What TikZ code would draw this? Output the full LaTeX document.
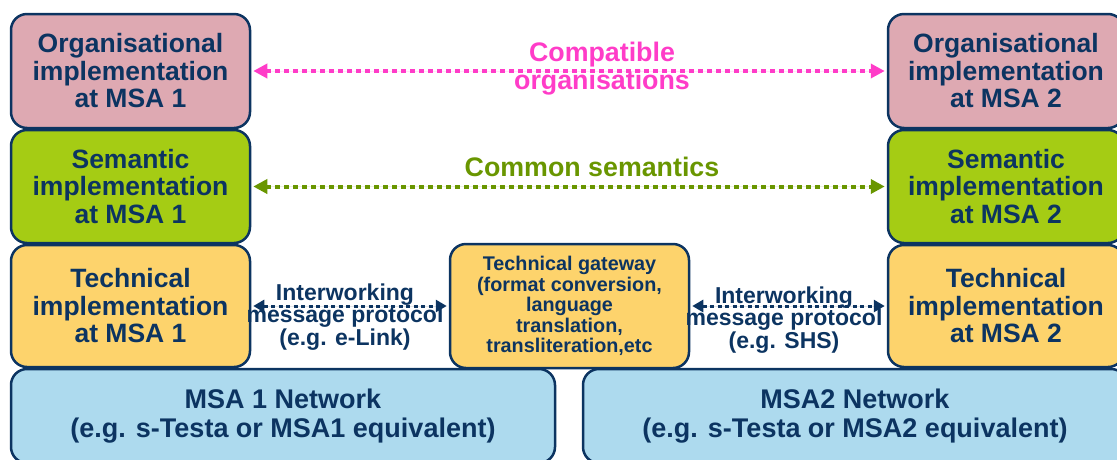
\documentclass[tikz,border=0pt]{standalone}
\usepackage{fontspec}
\setmainfont{Liberation Sans}
\usetikzlibrary{arrows.meta}
\definecolor{navy}{RGB}{12,52,97}
\definecolor{orgfill}{RGB}{222,169,178}
\definecolor{semfill}{RGB}{165,204,20}
\definecolor{techfill}{RGB}{253,211,108}
\definecolor{netfill}{RGB}{173,218,238}
\definecolor{pinkline}{RGB}{255,60,200}
\definecolor{greenline}{RGB}{105,150,0}
\tikzset{
  layerbox/.style={draw=navy, line width=2.5pt, rounded corners=16pt,
    text=navy, align=center, inner sep=0pt,
    font=\bfseries\fontsize{26.5}{27.5}\selectfont},
  orgbox/.style={layerbox, fill=orgfill},
  sembox/.style={layerbox, fill=semfill},
  techbox/.style={layerbox, fill=techfill},
  netbox/.style={layerbox, fill=netfill, font=\bfseries\fontsize{27}{29}\selectfont},
  gwbox/.style={layerbox, fill=techfill, font=\bfseries\fontsize{19.8}{20.5}\selectfont},
  bigdots/.style={line width=4pt, dash pattern=on 5pt off 4pt,
    {Triangle[length=14pt,width=14pt]}-{Triangle[length=14pt,width=14pt]}, shorten <=2pt, shorten >=2pt},
  smalldots/.style={draw=navy, line width=3pt, dash pattern=on 4pt off 3.5pt,
    {Triangle[length=11pt,width=12pt]}-{Triangle[length=11pt,width=12pt]}, shorten <=2pt, shorten >=2pt},
  linklabel/.style={text=navy, align=center, font=\bfseries\fontsize{23}{22.5}\selectfont},
  toplabel/.style={align=center, font=\bfseries\fontsize{26.8}{27.5}\selectfont},
}
\begin{document}
\begin{tikzpicture}[x=1pt, y=-1pt]
  \useasboundingbox (0,0) rectangle (1117,459);
  \clip (0,0) rectangle (1117,459);

  % member state A column
  \node[orgbox, minimum width=239pt, minimum height=114pt] (org1) at (130.5,71)
    {Organisational\\implementation\\at MSA 1};
  \node[sembox, minimum width=239pt, minimum height=113pt] (sem1) at (130.5,186.5)
    {Semantic\\implementation\\at MSA 1};
  \node[techbox, minimum width=239pt, minimum height=122pt] (tech1) at (130.5,306)
    {Technical\\implementation\\at MSA 1};

  % member state B column
  \node[orgbox, minimum width=236pt, minimum height=114pt] (org2) at (1006,71)
    {Organisational\\implementation\\at MSA 2};
  \node[sembox, minimum width=236pt, minimum height=113pt] (sem2) at (1006,186.5)
    {Semantic\\implementation\\at MSA 2};
  \node[techbox, minimum width=236pt, minimum height=122pt] (tech2) at (1006,306)
    {Technical\\implementation\\at MSA 2};

  % gateway in between
  \node[gwbox, minimum width=239pt, minimum height=124pt] (gw) at (569.5,306)
    {Technical gateway\\(format conversion,\\language\\translation,\\transliteration,etc};

  % networks
  \node[netbox, minimum width=544pt, minimum height=94pt] (net1) at (283,416)
    {MSA 1 Network\\(e.g. s-Testa or MSA1 equivalent)};
  \node[netbox, minimum width=544pt, minimum height=94pt] (net2) at (855,416)
    {MSA2 Network\\(e.g. s-Testa or MSA2 equivalent)};

  % interoperability links
  \draw[bigdots, draw=pinkline, fill=pinkline] (org1.east) -- (org2.west);
  \draw[bigdots, draw=greenline, fill=greenline] (sem1.east) -- (sem2.west);
  \draw[smalldots, fill=navy] (tech1.east) -- (gw.west);
  \draw[smalldots, fill=navy] (gw.east) -- (tech2.west);

  % link labels
  \node[toplabel, text=pinkline] (orglbl) at (602,68.5) {Compatible\\organisations};
  \node[toplabel, text=greenline] (semlbl) at (592,167) {Common semantics};
  \node[linklabel] (lbl1) at (345,317) {Interworking\\message protocol\\(e.g. e-Link)};
  \node[linklabel] (lbl2) at (784,320) {Interworking\\message protocol\\(e.g. SHS)};
\end{tikzpicture}
\end{document}
